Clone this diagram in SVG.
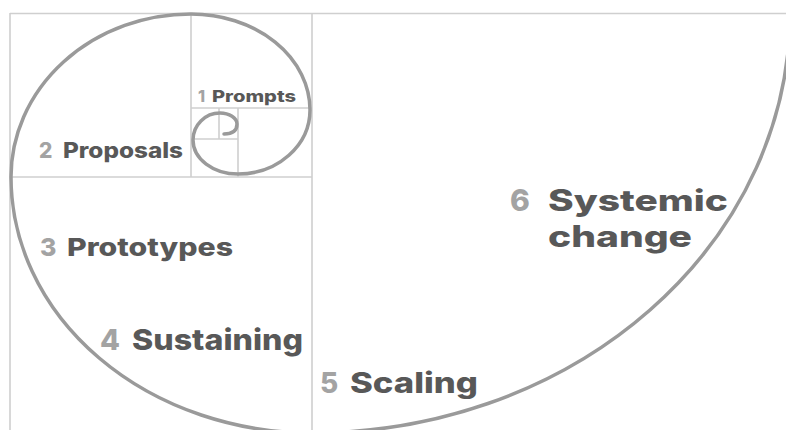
<svg xmlns="http://www.w3.org/2000/svg" width="786" height="430" viewBox="0 0 786 430">
  <style>
    .grid { stroke: #cfcfcf; stroke-width: 1.6; fill: none; }
    .spiral { stroke: #9a9a9a; stroke-width: 3.5; fill: none; stroke-linecap: round; }
    .num { font-family: Inter, "Open Sans", "Liberation Sans", sans-serif; font-weight: 800; fill: #a3a3a3; }
    .word { font-family: Inter, "Open Sans", "Liberation Sans", sans-serif; font-weight: 800; fill: #585858; }
  </style>
  <rect width="786" height="430" fill="#ffffff"/>
  <g id="grid" class="grid">
    <line x1="10" y1="13.5" x2="786" y2="13.5"/>
    <line x1="10" y1="13" x2="10" y2="430"/>
    <line x1="312" y1="13" x2="312" y2="430"/>
    <line x1="10" y1="177" x2="312" y2="177"/>
    <line x1="191" y1="13" x2="191" y2="177"/>
    <line x1="191" y1="108" x2="312" y2="108"/>
    <line x1="238" y1="108" x2="238" y2="177"/>
    <line x1="191" y1="139" x2="238" y2="139"/>
    <line x1="219" y1="108" x2="219" y2="139"/>
  </g>
  <g id="connectors">
    <path class="spiral" d="M 224 134 Q 237 134 237 124 A 17 11 0 0 0 220 113 A 27 27 0 0 0 193 140 A 45 34 0 0 0 238 174 A 72 64 0 0 0 310 110 A 119 96 0 0 0 191 14 A 180 163 0 0 0 11 177 A 301 256 0 0 0 312 433 A 478 420 0 0 0 790 13"/>
  </g>
  <g id="node-1">
    <text class="num" x="198" y="102" font-size="16">1</text>
    <text class="word" x="212" y="102" font-size="16" textLength="84" lengthAdjust="spacingAndGlyphs">Prompts</text>
  </g>
  <g id="node-2">
    <text class="num" x="39" y="158" font-size="21">2</text>
    <text class="word" x="63" y="158" font-size="21" textLength="120" lengthAdjust="spacingAndGlyphs">Proposals</text>
  </g>
  <g id="node-3">
    <text class="num" x="40" y="256" font-size="25">3</text>
    <text class="word" x="67" y="256" font-size="25" textLength="166" lengthAdjust="spacingAndGlyphs">Prototypes</text>
  </g>
  <g id="node-4">
    <text class="num" x="100" y="350" font-size="29">4</text>
    <text class="word" x="132" y="350" font-size="29" textLength="171" lengthAdjust="spacingAndGlyphs">Sustaining</text>
  </g>
  <g id="node-5">
    <text class="num" x="320" y="393" font-size="28">5</text>
    <text class="word" x="350" y="393" font-size="28" textLength="128" lengthAdjust="spacingAndGlyphs">Scaling</text>
  </g>
  <g id="node-6">
    <text class="num" x="510" y="211" font-size="30">6</text>
    <text class="word" x="548" y="211" font-size="29.5" textLength="180" lengthAdjust="spacingAndGlyphs">Systemic</text>
    <text class="word" x="548" y="247" font-size="29.5" textLength="144" lengthAdjust="spacingAndGlyphs">change</text>
  </g>
</svg>
